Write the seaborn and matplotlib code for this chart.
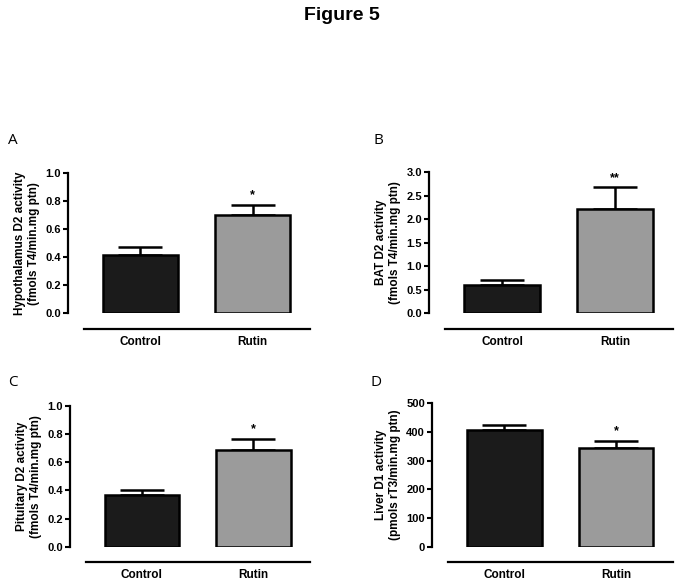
import numpy as np
import seaborn as sns
import matplotlib.pyplot as plt

sns.set_style("ticks")
plt.rcParams['font.family'] = ['Liberation Sans', 'DejaVu Sans']
plt.rcParams['text.color'] = 'black'
plt.rcParams['axes.labelcolor'] = 'black'
plt.rcParams['xtick.color'] = 'black'
plt.rcParams['ytick.color'] = 'black'
plt.rcParams['axes.edgecolor'] = 'black'

groups = ["Control", "Rutin"]
bar_colors = ["#1b1b1b", "#9b9b9b"]

# Panel values (mean, SEM)
hypothalamus_mean = [0.42, 0.70]
hypothalamus_sem = [0.056, 0.074]
bat_mean = [0.61, 2.21]
bat_sem = [0.10, 0.47]
pituitary_mean = [0.365, 0.685]
pituitary_sem = [0.037, 0.08]
liver_mean = [407, 345]
liver_sem = [18, 25]

# significance marks per panel
hypothalamus_sig = ["", "*"]
bat_sig = ["", "**"]
pituitary_sig = ["", "*"]
liver_sig = ["", "*"]

panels = [
    ("A", hypothalamus_mean, hypothalamus_sem, hypothalamus_sig,
     "Hypothalamus D2 activity\n(fmols T4/min.mg ptn)", np.arange(0, 1.01, 0.2), "{:.1f}",
     [68, 310, 173.3, 313.3]),
    ("B", bat_mean, bat_sem, bat_sig,
     "BAT D2 activity\n(fmols T4/min.mg ptn)", np.arange(0, 3.01, 0.5), "{:.1f}",
     [429, 673, 172.3, 313.3]),
    ("C", pituitary_mean, pituitary_sem, pituitary_sig,
     "Pituitary D2 activity\n(fmols T4/min.mg ptn)", np.arange(0, 1.01, 0.2), "{:.1f}",
     [70, 310, 406, 546.7]),
    ("D", liver_mean, liver_sem, liver_sig,
     "Liver D1 activity\n(pmols rT3/min.mg ptn)", np.arange(0, 501, 100), "{:.0f}",
     [432, 673, 403.3, 546.7]),
]

W, H = 683, 587
fig = plt.figure(figsize=(W / 100, H / 100), dpi=100)
fig.text(0.5, 1 - 15 / H, "Figure 5", ha="center", va="center",
         fontsize=14, fontweight="bold")

letter_pos = {"A": (8, 140), "B": (373, 140), "C": (8, 383), "D": (370, 383)}

for letter, means, sems, sig, ylabel, yticks, fmt, (x0, x1, ytop, ybot) in panels:
    ax = fig.add_axes([x0 / W, 1 - ybot / H, (x1 - x0) / W, (ybot - ytop) / H])
    sns.barplot(x=groups, y=means, hue=groups, palette=bar_colors, legend=False,
                width=0.67, edgecolor="black", linewidth=1.8, ax=ax, zorder=3)
    ax.errorbar(x=[0, 1], y=means, yerr=[[0, 0], sems], fmt="none", ecolor="black",
                elinewidth=1.8, capsize=16, capthick=1.8, zorder=2)
    ymax = yticks[-1]
    for i in range(2):
        if sig[i]:
            ax.text(i, means[i] + sems[i] + 0.025 * ymax, sig[i], ha="center",
                    va="bottom", fontsize=9, fontweight="bold")
    # spines first: moving a spine resets the ticks
    sns.despine(ax=ax)
    ax.spines["left"].set_linewidth(1.6)
    ax.spines["bottom"].set_linewidth(1.6)
    ax.spines["bottom"].set_position(("outward", 11.3))
    ax.set_ylim(0, ymax)
    ax.set_xlim(-0.645, 1.51)
    ax.spines["bottom"].set_bounds(-0.5, 1.51)
    ax.tick_params(axis="y", length=3.5, width=1.5, pad=1.5)
    ax.tick_params(axis="x", length=0, pad=5)
    ax.set_yticks(yticks)
    ax.set_yticklabels([fmt.format(t) for t in yticks], fontsize=8, fontweight="bold")
    ax.set_xticks([0, 1])
    ax.set_xticklabels(groups, fontsize=8.5, fontweight="bold")
    ax.set_ylabel(ylabel, fontsize=8.5, fontweight="bold", labelpad=4)
    ax.set_xlabel("")
    lx, ly = letter_pos[letter]
    fig.text(lx / W, 1 - ly / H, letter, ha="left", va="center", fontsize=11,
             family=["Open Sans", "DejaVu Sans"])

fig.savefig("out.png", dpi=100)
